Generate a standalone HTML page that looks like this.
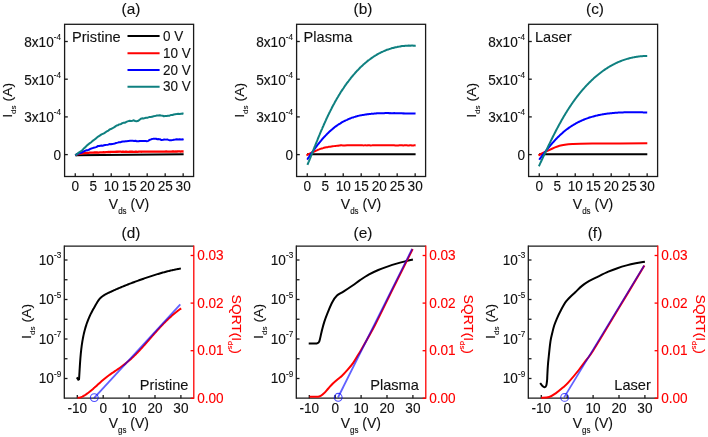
<!DOCTYPE html>
<html><head><meta charset="utf-8"><style>
html,body{margin:0;padding:0;background:#fff;}
body{width:708px;height:437px;overflow:hidden;}
svg{display:block;font-family:"Liberation Sans", sans-serif;filter:blur(0.35px);}
text{stroke-width:0.12px;}
</style></head><body>
<svg width="708" height="437" viewBox="0 0 708 437">
<rect width="708" height="437" fill="#fff"/>
<text transform="translate(131,13.6) scale(1,1.0)" font-size="15.4" text-anchor="middle" fill="#111" stroke="#111" >(a)</text>
<rect x="64.6" y="24.3" width="129" height="152.2" fill="none" stroke="#1a1a1a" stroke-width="1.3"/>
<line x1="75.25" y1="176.5" x2="75.25" y2="173.2" stroke="#1a1a1a" stroke-width="1.3" />
<text transform="translate(75.25,191) scale(1,1.04)" font-size="13.6" text-anchor="middle" fill="#111" stroke="#111" >0</text>
<line x1="93.23" y1="176.5" x2="93.23" y2="173.2" stroke="#1a1a1a" stroke-width="1.3" />
<text transform="translate(93.23,191) scale(1,1.04)" font-size="13.6" text-anchor="middle" fill="#111" stroke="#111" >5</text>
<line x1="111.22" y1="176.5" x2="111.22" y2="173.2" stroke="#1a1a1a" stroke-width="1.3" />
<text transform="translate(111.22,191) scale(1,1.04)" font-size="13.6" text-anchor="middle" fill="#111" stroke="#111" >10</text>
<line x1="129.2" y1="176.5" x2="129.2" y2="173.2" stroke="#1a1a1a" stroke-width="1.3" />
<text transform="translate(129.2,191) scale(1,1.04)" font-size="13.6" text-anchor="middle" fill="#111" stroke="#111" >15</text>
<line x1="147.19" y1="176.5" x2="147.19" y2="173.2" stroke="#1a1a1a" stroke-width="1.3" />
<text transform="translate(147.19,191) scale(1,1.04)" font-size="13.6" text-anchor="middle" fill="#111" stroke="#111" >20</text>
<line x1="165.18" y1="176.5" x2="165.18" y2="173.2" stroke="#1a1a1a" stroke-width="1.3" />
<text transform="translate(165.18,191) scale(1,1.04)" font-size="13.6" text-anchor="middle" fill="#111" stroke="#111" >25</text>
<line x1="183.16" y1="176.5" x2="183.16" y2="173.2" stroke="#1a1a1a" stroke-width="1.3" />
<text transform="translate(183.16,191) scale(1,1.04)" font-size="13.6" text-anchor="middle" fill="#111" stroke="#111" >30</text>
<line x1="64.6" y1="154.6" x2="67.8" y2="154.6" stroke="#1a1a1a" stroke-width="1.3" />
<text transform="translate(61,159.9) scale(1,1.04)" font-size="13.6" text-anchor="end" fill="#111" stroke="#111" >0</text>
<line x1="64.6" y1="116.9" x2="67.8" y2="116.9" stroke="#1a1a1a" stroke-width="1.3" />
<text transform="translate(61,122.3) scale(1,1.04)" font-size="13.6" text-anchor="end" fill="#111" stroke="#111" >3x10<tspan font-size="8.2" dy="-6.6">-4</tspan></text>
<line x1="64.6" y1="79.2" x2="67.8" y2="79.2" stroke="#1a1a1a" stroke-width="1.3" />
<text transform="translate(61,84.6) scale(1,1.04)" font-size="13.6" text-anchor="end" fill="#111" stroke="#111" >5x10<tspan font-size="8.2" dy="-6.6">-4</tspan></text>
<line x1="64.6" y1="41.5" x2="67.8" y2="41.5" stroke="#1a1a1a" stroke-width="1.3" />
<text transform="translate(61,46.9) scale(1,1.04)" font-size="13.6" text-anchor="end" fill="#111" stroke="#111" >8x10<tspan font-size="8.2" dy="-6.6">-4</tspan></text>
<text transform="translate(11.8,100.3) scale(1,1.08) rotate(-90)" font-size="13" text-anchor="middle" fill="#111" stroke="#111" >I<tspan font-size="7.5" dy="4.2">ds</tspan><tspan dy="-4.2"> (A)</tspan></text>
<text transform="translate(129,209) scale(1,1.08)" font-size="14" text-anchor="middle" fill="#111" stroke="#111" >V<tspan font-size="8" dy="4.4">ds</tspan><tspan dy="-4.4"> (V)</tspan></text>
<text transform="translate(72,42.4) scale(1,1.0)" font-size="14.6" text-anchor="start" fill="#111" stroke="#111" >Pristine</text>
<text transform="translate(363,13.6) scale(1,1.0)" font-size="15.4" text-anchor="middle" fill="#111" stroke="#111" >(b)</text>
<rect x="296.6" y="24.3" width="129" height="152.2" fill="none" stroke="#1a1a1a" stroke-width="1.3"/>
<line x1="307.25" y1="176.5" x2="307.25" y2="173.2" stroke="#1a1a1a" stroke-width="1.3" />
<text transform="translate(307.25,191) scale(1,1.04)" font-size="13.6" text-anchor="middle" fill="#111" stroke="#111" >0</text>
<line x1="325.24" y1="176.5" x2="325.24" y2="173.2" stroke="#1a1a1a" stroke-width="1.3" />
<text transform="translate(325.24,191) scale(1,1.04)" font-size="13.6" text-anchor="middle" fill="#111" stroke="#111" >5</text>
<line x1="343.22" y1="176.5" x2="343.22" y2="173.2" stroke="#1a1a1a" stroke-width="1.3" />
<text transform="translate(343.22,191) scale(1,1.04)" font-size="13.6" text-anchor="middle" fill="#111" stroke="#111" >10</text>
<line x1="361.2" y1="176.5" x2="361.2" y2="173.2" stroke="#1a1a1a" stroke-width="1.3" />
<text transform="translate(361.2,191) scale(1,1.04)" font-size="13.6" text-anchor="middle" fill="#111" stroke="#111" >15</text>
<line x1="379.19" y1="176.5" x2="379.19" y2="173.2" stroke="#1a1a1a" stroke-width="1.3" />
<text transform="translate(379.19,191) scale(1,1.04)" font-size="13.6" text-anchor="middle" fill="#111" stroke="#111" >20</text>
<line x1="397.18" y1="176.5" x2="397.18" y2="173.2" stroke="#1a1a1a" stroke-width="1.3" />
<text transform="translate(397.18,191) scale(1,1.04)" font-size="13.6" text-anchor="middle" fill="#111" stroke="#111" >25</text>
<line x1="415.16" y1="176.5" x2="415.16" y2="173.2" stroke="#1a1a1a" stroke-width="1.3" />
<text transform="translate(415.16,191) scale(1,1.04)" font-size="13.6" text-anchor="middle" fill="#111" stroke="#111" >30</text>
<line x1="296.6" y1="154.6" x2="299.8" y2="154.6" stroke="#1a1a1a" stroke-width="1.3" />
<text transform="translate(293,159.9) scale(1,1.04)" font-size="13.6" text-anchor="end" fill="#111" stroke="#111" >0</text>
<line x1="296.6" y1="116.9" x2="299.8" y2="116.9" stroke="#1a1a1a" stroke-width="1.3" />
<text transform="translate(293,122.3) scale(1,1.04)" font-size="13.6" text-anchor="end" fill="#111" stroke="#111" >3x10<tspan font-size="8.2" dy="-6.6">-4</tspan></text>
<line x1="296.6" y1="79.2" x2="299.8" y2="79.2" stroke="#1a1a1a" stroke-width="1.3" />
<text transform="translate(293,84.6) scale(1,1.04)" font-size="13.6" text-anchor="end" fill="#111" stroke="#111" >5x10<tspan font-size="8.2" dy="-6.6">-4</tspan></text>
<line x1="296.6" y1="41.5" x2="299.8" y2="41.5" stroke="#1a1a1a" stroke-width="1.3" />
<text transform="translate(293,46.9) scale(1,1.04)" font-size="13.6" text-anchor="end" fill="#111" stroke="#111" >8x10<tspan font-size="8.2" dy="-6.6">-4</tspan></text>
<text transform="translate(243.8,100.3) scale(1,1.08) rotate(-90)" font-size="13" text-anchor="middle" fill="#111" stroke="#111" >I<tspan font-size="7.5" dy="4.2">ds</tspan><tspan dy="-4.2"> (A)</tspan></text>
<text transform="translate(361,209) scale(1,1.08)" font-size="14" text-anchor="middle" fill="#111" stroke="#111" >V<tspan font-size="8" dy="4.4">ds</tspan><tspan dy="-4.4"> (V)</tspan></text>
<text transform="translate(303.6,42.4) scale(1,1.0)" font-size="14.6" text-anchor="start" fill="#111" stroke="#111" >Plasma</text>
<text transform="translate(595,13.6) scale(1,1.0)" font-size="15.4" text-anchor="middle" fill="#111" stroke="#111" >(c)</text>
<rect x="528.6" y="24.3" width="129" height="152.2" fill="none" stroke="#1a1a1a" stroke-width="1.3"/>
<line x1="539.25" y1="176.5" x2="539.25" y2="173.2" stroke="#1a1a1a" stroke-width="1.3" />
<text transform="translate(539.25,191) scale(1,1.04)" font-size="13.6" text-anchor="middle" fill="#111" stroke="#111" >0</text>
<line x1="557.24" y1="176.5" x2="557.24" y2="173.2" stroke="#1a1a1a" stroke-width="1.3" />
<text transform="translate(557.24,191) scale(1,1.04)" font-size="13.6" text-anchor="middle" fill="#111" stroke="#111" >5</text>
<line x1="575.22" y1="176.5" x2="575.22" y2="173.2" stroke="#1a1a1a" stroke-width="1.3" />
<text transform="translate(575.22,191) scale(1,1.04)" font-size="13.6" text-anchor="middle" fill="#111" stroke="#111" >10</text>
<line x1="593.21" y1="176.5" x2="593.21" y2="173.2" stroke="#1a1a1a" stroke-width="1.3" />
<text transform="translate(593.21,191) scale(1,1.04)" font-size="13.6" text-anchor="middle" fill="#111" stroke="#111" >15</text>
<line x1="611.19" y1="176.5" x2="611.19" y2="173.2" stroke="#1a1a1a" stroke-width="1.3" />
<text transform="translate(611.19,191) scale(1,1.04)" font-size="13.6" text-anchor="middle" fill="#111" stroke="#111" >20</text>
<line x1="629.17" y1="176.5" x2="629.17" y2="173.2" stroke="#1a1a1a" stroke-width="1.3" />
<text transform="translate(629.17,191) scale(1,1.04)" font-size="13.6" text-anchor="middle" fill="#111" stroke="#111" >25</text>
<line x1="647.16" y1="176.5" x2="647.16" y2="173.2" stroke="#1a1a1a" stroke-width="1.3" />
<text transform="translate(647.16,191) scale(1,1.04)" font-size="13.6" text-anchor="middle" fill="#111" stroke="#111" >30</text>
<line x1="528.6" y1="154.6" x2="531.8" y2="154.6" stroke="#1a1a1a" stroke-width="1.3" />
<text transform="translate(525,159.9) scale(1,1.04)" font-size="13.6" text-anchor="end" fill="#111" stroke="#111" >0</text>
<line x1="528.6" y1="116.9" x2="531.8" y2="116.9" stroke="#1a1a1a" stroke-width="1.3" />
<text transform="translate(525,122.3) scale(1,1.04)" font-size="13.6" text-anchor="end" fill="#111" stroke="#111" >3x10<tspan font-size="8.2" dy="-6.6">-4</tspan></text>
<line x1="528.6" y1="79.2" x2="531.8" y2="79.2" stroke="#1a1a1a" stroke-width="1.3" />
<text transform="translate(525,84.6) scale(1,1.04)" font-size="13.6" text-anchor="end" fill="#111" stroke="#111" >5x10<tspan font-size="8.2" dy="-6.6">-4</tspan></text>
<line x1="528.6" y1="41.5" x2="531.8" y2="41.5" stroke="#1a1a1a" stroke-width="1.3" />
<text transform="translate(525,46.9) scale(1,1.04)" font-size="13.6" text-anchor="end" fill="#111" stroke="#111" >8x10<tspan font-size="8.2" dy="-6.6">-4</tspan></text>
<text transform="translate(475.8,100.3) scale(1,1.08) rotate(-90)" font-size="13" text-anchor="middle" fill="#111" stroke="#111" >I<tspan font-size="7.5" dy="4.2">ds</tspan><tspan dy="-4.2"> (A)</tspan></text>
<text transform="translate(593,209) scale(1,1.08)" font-size="14" text-anchor="middle" fill="#111" stroke="#111" >V<tspan font-size="8" dy="4.4">ds</tspan><tspan dy="-4.4"> (V)</tspan></text>
<text transform="translate(535,42.4) scale(1,1.0)" font-size="14.6" text-anchor="start" fill="#111" stroke="#111" >Laser</text>
<line x1="127.5" y1="36" x2="159.6" y2="36" stroke="#000" stroke-width="2.0" />
<text transform="translate(163,40.6) scale(1,1.08)" font-size="13.5" text-anchor="start" fill="#111" stroke="#111" >0 V</text>
<line x1="127.5" y1="53.2" x2="159.6" y2="53.2" stroke="#ff0000" stroke-width="2.0" />
<text transform="translate(163,57.8) scale(1,1.08)" font-size="13.5" text-anchor="start" fill="#111" stroke="#111" >10 V</text>
<line x1="127.5" y1="70.1" x2="159.6" y2="70.1" stroke="#0000ff" stroke-width="2.0" />
<text transform="translate(163,74.7) scale(1,1.08)" font-size="13.5" text-anchor="start" fill="#111" stroke="#111" >20 V</text>
<line x1="127.5" y1="86.8" x2="159.6" y2="86.8" stroke="#0f8080" stroke-width="2.0" />
<text transform="translate(163,91.4) scale(1,1.08)" font-size="13.5" text-anchor="start" fill="#111" stroke="#111" >30 V</text>
<path d="M75.3,155.3 L183.6,154.2" fill="none" stroke="#000" stroke-width="2.0" stroke-linejoin="round" stroke-linecap="butt" />
<path d="M75.4,155.5 L76.43,154.78 L78.6,153.92 L79.51,153.85 L80.5,153.54 L81.6,153.49 L82.85,153.29 L84.26,153.07 L85.87,153.03 L87.7,152.79 L88.66,152.83 L89.71,152.68 L90.84,152.63 L92.03,152.66 L93.28,152.7 L94.56,152.49 L95.88,152.46 L97.21,152.51 L98.55,152.55 L99.88,152.41 L101.19,152.33 L102.47,152.43 L103.7,152.17 L104.89,152.32 L106,152.15 L107.25,152.07 L108.14,152.02 L108.79,152.02 L109.32,152.1 L109.86,151.92 L110.52,151.98 L111.44,151.96 L112.72,151.86 L114.49,151.87 L116.88,151.73 L120,151.69 L120.76,151.72 L121.58,151.83 L122.45,151.76 L123.37,151.73 L124.34,151.79 L125.35,151.75 L126.41,151.71 L127.52,151.82 L128.66,151.79 L129.84,151.67 L131.05,151.74 L132.3,151.73 L133.58,151.8 L134.89,151.76 L136.22,151.65 L137.57,151.81 L138.95,151.59 L140.35,151.66 L141.76,151.73 L143.19,151.58 L144.63,151.66 L146.08,151.54 L147.54,151.69 L149.01,151.7 L150.47,151.65 L151.94,151.72 L153.41,151.58 L154.87,151.66 L156.33,151.63 L157.78,151.62 L159.22,151.59 L160.64,151.67 L162.05,151.69 L163.45,151.58 L164.82,151.62 L166.17,151.47 L167.5,151.61 L168.8,151.6 L170.08,151.67 L171.32,151.63 L172.53,151.49 L173.7,151.51 L174.83,151.58 L175.93,151.42 L176.98,151.52 L177.99,151.44 L178.95,151.43 L179.86,151.41 L180.72,151.58 L181.53,151.42 L182.28,151.45 L182.97,151.48 L183.6,151.5" fill="none" stroke="#ff0000" stroke-width="2.3" stroke-linejoin="round" stroke-linecap="butt" />
<path d="M75.4,155.5 L76.3,154.72 L77.04,153.91 L78,153.72 L79.11,153.32 L80.33,153.02 L81.62,152.46 L82.93,151.97 L84.2,151.12 L85.4,150.75 L86.58,150.28 L87.8,150.16 L89.04,149.77 L90.28,148.86 L91.48,148.47 L92.62,148.11 L93.67,147.76 L94.6,147.59 L96.07,147.12 L97.17,146.51 L98.14,146.01 L99.2,145.95 L100.34,145.67 L101.46,145.61 L102.65,145.67 L104,145.31 L105.25,145.01 L106.61,144.87 L108.05,144.68 L109.49,144.08 L110.9,144.34 L112.23,144.01 L113.51,143.79 L114.81,143.45 L116.19,142.92 L117.7,142.64 L118.91,142.25 L120.21,142.35 L121.59,141.78 L122.98,141.56 L124.35,141.45 L125.67,141.24 L126.9,141.2 L128.49,140.89 L130.01,140.78 L131.44,140.82 L132.77,140.77 L134,140.92 L135.59,140.76 L136.89,141.37 L138.6,141.27 L139.81,140.99 L141.23,141.06 L142.76,141.11 L144.27,141.09 L145.65,140.88 L146.8,141.21 L148.3,140.89 L149.3,140.04 L150.5,139.59 L151.75,139.09 L153.14,138.87 L154.58,138.85 L156,138.76 L157.4,139.24 L158.81,139.12 L160.2,139.33 L161.5,140.07 L163.05,139.81 L164.49,139.44 L166,139.63 L167.18,139.42 L168.37,139.91 L169.67,140.34 L171.2,140.32 L172.44,140.13 L173.86,139.71 L175.36,139.58 L176.84,139.26 L178.22,139.45 L179.4,139.22 L181.28,139.42 L182.73,139.35 L183.7,139.6" fill="none" stroke="#0000ff" stroke-width="2.0" stroke-linejoin="round" stroke-linecap="butt" />
<path d="M75.4,155.5 L76.18,154.57 L77.31,153.84 L78.5,152.89 L79.62,152.01 L80.81,151.21 L82.2,150.19 L83,149.47 L83.85,148.41 L84.75,147.77 L85.7,146.81 L86.68,145.72 L87.7,144.82 L88.61,144.17 L89.57,143.3 L90.56,142.69 L91.57,141.96 L92.59,140.79 L93.6,140.25 L94.6,139.49 L95.77,138.61 L96.98,137.43 L98.18,136.54 L99.36,135.8 L100.47,135.07 L101.5,134.42 L102.8,133.86 L103.9,133.36 L105,132.67 L106.3,131.69 L107.33,131.17 L108.45,130.58 L109.62,129.44 L110.83,129.06 L112.03,128.51 L113.2,127.77 L114.34,127.12 L115.47,126.33 L116.6,125.54 L117.73,125.33 L118.86,124.51 L120,124.28 L121.16,123.92 L122.34,123.14 L123.53,122.75 L124.7,122.72 L125.83,122.25 L126.9,121.6 L128.38,121.14 L129.75,120.77 L131.07,120.92 L132.4,120.68 L133.79,120.34 L135.19,120.99 L136.53,121.3 L137.7,121.09 L138.79,120.41 L139.64,119.76 L140.9,118.78 L142.03,118.36 L143.36,118.59 L144.8,118.08 L146.28,117.7 L147.7,117.66 L149.12,117.09 L150.61,117.1 L152.07,116.83 L153.42,116.23 L154.6,116.05 L156,115.73 L157.05,115.39 L158.3,115.45 L159.61,115.32 L161.11,115.6 L162.57,115.63 L163.8,116.25 L165.26,116.07 L166.6,116.07 L167.97,115.86 L169.53,115.64 L171.2,114.95 L172.48,115 L173.81,114.5 L175.21,114.3 L176.7,114.11 L178.09,113.71 L179.65,113.89 L181.21,113.68 L182.55,113.53 L183.5,113.8" fill="none" stroke="#0f8080" stroke-width="2.0" stroke-linejoin="round" stroke-linecap="butt" />
<path d="M307,154.3 L415.6,154.3" fill="none" stroke="#000" stroke-width="2.0" stroke-linejoin="round" stroke-linecap="butt" />
<path d="M306.4,155.3 L307.21,154.95 L308.32,154.27 L309.67,153.66 L311.18,152.98 L312.8,152.21 L313.74,151.74 L314.73,151.33 L315.76,150.85 L316.84,150.4 L317.96,149.77 L319.13,149.38 L320.34,148.86 L321.6,148.44 L322.9,148.15 L324.01,147.82 L325.17,147.56 L326.37,147.35 L327.61,147.14 L328.88,146.82 L330.16,146.64 L331.46,146.43 L332.76,146.25 L334.05,146.12 L335.34,145.93 L336.6,145.81 L337.66,145.68 L338.41,145.68 L338.97,145.56 L339.45,145.54 L339.97,145.51 L340.65,145.34 L341.59,145.37 L342.93,145.43 L344.76,145.4 L347.21,145.24 L350.4,145.22 L351.16,145.28 L351.98,145.21 L352.84,145.24 L353.76,145.2 L354.73,145.32 L355.75,145.34 L356.8,145.36 L357.91,145.21 L359.05,145.33 L360.23,145.32 L361.44,145.21 L362.69,145.36 L363.96,145.38 L365.27,145.23 L366.6,145.38 L367.96,145.27 L369.34,145.29 L370.74,145.39 L372.16,145.36 L373.59,145.23 L375.04,145.29 L376.49,145.31 L377.96,145.27 L379.43,145.25 L380.91,145.28 L382.38,145.36 L383.86,145.22 L385.34,145.33 L386.81,145.31 L388.27,145.23 L389.73,145.3 L391.17,145.36 L392.6,145.34 L394.02,145.26 L395.42,145.45 L396.79,145.41 L398.15,145.45 L399.48,145.28 L400.78,145.32 L402.05,145.27 L403.3,145.43 L404.51,145.33 L405.68,145.3 L406.82,145.36 L407.91,145.46 L408.96,145.45 L409.97,145.34 L410.94,145.32 L411.85,145.48 L412.71,145.41 L413.52,145.44 L414.27,145.32 L414.97,145.31 L415.6,145.4" fill="none" stroke="#ff0000" stroke-width="2.0" stroke-linejoin="round" stroke-linecap="butt" />
<path d="M307.15,159.6 L307.58,159 L308.02,158.31 L308.46,157.6 L308.9,157.13 L309.35,156.42 L309.79,155.8 L310.24,155.01 L310.69,154.51 L311.15,153.7 L311.6,153.21 L312.06,152.47 L312.53,151.79 L312.99,151.18 L313.46,150.6 L313.94,149.81 L314.41,149.13 L314.89,148.55 L315.37,147.84 L315.86,147.16 L316.35,146.52 L316.84,145.85 L317.33,145.23 L317.83,144.61 L318.34,143.96 L318.84,143.41 L319.35,142.67 L319.87,142.08 L320.39,141.38 L320.91,140.78 L321.44,140.09 L321.97,139.51 L322.5,138.84 L323.04,138.36 L323.58,137.71 L324.13,137.03 L324.68,136.49 L325.24,135.98 L325.8,135.22 L326.37,134.77 L326.94,134.11 L327.51,133.55 L328.09,133.04 L328.68,132.39 L329.27,131.85 L329.86,131.33 L330.46,130.85 L331.07,130.18 L331.68,129.75 L332.29,129.2 L332.91,128.66 L333.54,128.11 L334.17,127.6 L334.81,127.04 L335.45,126.57 L336.1,126.08 L336.75,125.75 L337.41,125.19 L338.07,124.72 L338.74,124.26 L339.41,123.98 L340.09,123.56 L340.77,123.1 L341.45,122.62 L342.14,122.21 L342.84,121.83 L343.54,121.48 L344.24,121.05 L344.95,120.75 L345.67,120.36 L346.38,120.16 L347.1,119.83 L347.83,119.42 L348.56,119.04 L349.29,118.88 L350.03,118.46 L350.77,118.19 L351.52,117.84 L352.26,117.65 L353.02,117.42 L353.77,117.18 L354.53,116.88 L355.29,116.71 L356.06,116.4 L356.83,116.24 L357.6,116 L358.38,115.87 L359.15,115.61 L359.94,115.43 L360.72,115.32 L361.51,115.14 L362.29,115.06 L363.08,114.9 L363.88,114.8 L364.67,114.65 L365.47,114.54 L366.27,114.45 L367.07,114.24 L367.88,114.12 L368.68,114.15 L369.49,113.89 L370.3,113.92 L371.11,113.82 L371.92,113.62 L372.74,113.71 L373.55,113.65 L374.37,113.54 L375.19,113.5 L376,113.47 L376.82,113.28 L377.64,113.32 L378.46,113.28 L379.29,113.31 L380.11,113.27 L380.93,113.25 L381.75,113.18 L382.58,113.22 L383.4,113.17 L384.23,113.16 L385.05,113.06 L385.87,113.01 L386.7,113.03 L387.52,113.07 L388.35,113.02 L389.17,113.17 L389.99,113.12 L390.81,113.15 L391.64,113.15 L392.46,113.18 L393.28,113.15 L394.1,113.07 L394.91,113.24 L395.73,113.25 L396.55,113.22 L397.36,113.24 L398.18,113.29 L398.99,113.19 L399.8,113.34 L400.61,113.26 L401.41,113.25 L402.22,113.31 L403.02,113.42 L403.83,113.33 L404.62,113.46 L405.42,113.52 L406.22,113.44 L407.01,113.43 L407.8,113.46 L408.59,113.52 L409.38,113.54 L410.16,113.52 L410.94,113.53 L411.72,113.43 L412.49,113.44 L413.26,113.46 L414.03,113.56 L414.8,113.46 L415.56,113.49" fill="none" stroke="#0000ff" stroke-width="2.0" stroke-linejoin="round" stroke-linecap="butt" />
<path d="M307.45,164.94 L307.75,164.22 L308.04,163.37 L308.34,162.64 L308.63,161.95 L308.93,161.29 L309.22,160.56 L309.52,159.81 L309.81,158.99 L310.11,158.3 L310.4,157.55 L310.7,156.8 L310.99,155.99 L311.29,155.4 L311.58,154.52 L311.87,153.93 L312.17,153.18 L312.46,152.25 L312.76,151.59 L313.05,150.92 L313.35,150.2 L313.65,149.35 L313.94,148.57 L314.24,147.81 L314.54,147.21 L314.83,146.32 L315.13,145.64 L315.43,144.81 L315.73,144.14 L316.03,143.48 L316.33,142.56 L316.63,141.95 L316.93,141.14 L317.24,140.47 L317.54,139.69 L317.84,138.84 L318.15,138.23 L318.45,137.4 L318.76,136.56 L319.07,135.81 L319.38,135.16 L319.69,134.41 L320,133.63 L320.31,132.85 L320.62,132.15 L320.94,131.4 L321.25,130.76 L321.57,129.85 L321.89,129.25 L322.2,128.53 L322.52,127.64 L322.85,127.06 L323.17,126.28 L323.49,125.57 L323.82,124.71 L324.15,123.99 L324.48,123.25 L324.81,122.64 L325.14,121.82 L325.47,121.03 L325.81,120.31 L326.14,119.55 L326.48,118.77 L326.82,118.04 L327.17,117.46 L327.51,116.62 L327.86,116.02 L328.21,115.15 L328.56,114.43 L328.91,113.75 L329.26,112.96 L329.62,112.27 L329.98,111.66 L330.34,110.93 L330.7,110.19 L331.06,109.44 L331.43,108.77 L331.8,108.06 L332.17,107.27 L332.54,106.59 L332.92,105.74 L333.3,105.17 L333.68,104.4 L334.06,103.75 L334.45,103.02 L334.83,102.24 L335.23,101.49 L335.62,100.97 L336.02,100.1 L336.41,99.47 L336.82,98.75 L337.22,98.05 L337.63,97.44 L338.04,96.8 L338.45,95.96 L338.86,95.35 L339.28,94.59 L339.7,93.96 L340.13,93.24 L340.55,92.52 L340.98,91.84 L341.42,91.17 L341.85,90.63 L342.29,89.88 L342.74,89.15 L343.18,88.62 L343.63,87.97 L344.08,87.2 L344.54,86.47 L345,85.82 L345.46,85.15 L345.93,84.54 L346.4,83.84 L346.87,83.22 L347.35,82.57 L347.83,81.99 L348.31,81.41 L348.8,80.74 L349.29,80.03 L349.78,79.4 L350.28,78.78 L350.78,78.12 L351.29,77.49 L351.8,76.81 L352.31,76.23 L352.83,75.74 L353.35,74.96 L353.88,74.42 L354.4,73.83 L354.94,73.27 L355.47,72.54 L356.02,71.95 L356.56,71.35 L357.11,70.79 L357.66,70.21 L358.22,69.73 L358.78,69.12 L359.35,68.55 L359.91,67.81 L360.49,67.25 L361.07,66.82 L361.65,66.3 L362.23,65.66 L362.82,65.14 L363.42,64.48 L364.02,64.02 L364.62,63.6 L365.23,63.05 L365.84,62.54 L366.45,62.05 L367.07,61.4 L367.7,60.87 L368.32,60.38 L368.96,59.97 L369.59,59.52 L370.24,59.09 L370.88,58.58 L371.53,58.1 L372.19,57.67 L372.85,57.16 L373.51,56.74 L374.18,56.2 L374.85,55.92 L375.53,55.39 L376.21,55.12 L376.9,54.66 L377.59,54.19 L378.29,53.77 L378.99,53.42 L379.69,53.12 L380.4,52.77 L381.12,52.3 L381.84,51.95 L382.56,51.7 L383.29,51.38 L384.03,51.03 L384.76,50.68 L385.51,50.46 L386.25,50.05 L387,49.82 L387.76,49.58 L388.52,49.41 L389.28,49.09 L390.05,48.89 L390.82,48.57 L391.59,48.29 L392.37,48.08 L393.14,48.01 L393.93,47.75 L394.71,47.48 L395.5,47.24 L396.29,47.16 L397.08,47.03 L397.88,46.82 L398.68,46.64 L399.48,46.59 L400.28,46.51 L401.08,46.25 L401.89,46.1 L402.69,46.06 L403.5,45.98 L404.31,45.95 L405.12,45.78 L405.94,45.84 L406.75,45.77 L407.57,45.68 L408.38,45.58 L409.2,45.71 L410.01,45.56 L410.83,45.65 L411.65,45.54 L412.46,45.55 L413.28,45.67 L414.1,45.61 L414.91,45.78 L415.73,45.74" fill="none" stroke="#0f8080" stroke-width="2.0" stroke-linejoin="round" stroke-linecap="butt" />
<path d="M539,154.3 L647.3,154.3" fill="none" stroke="#000" stroke-width="2.0" stroke-linejoin="round" stroke-linecap="butt" />
<path d="M538.4,155.4 C539.62,154.78 542.18,153.3 545.7,151.7 C549.22,150.1 554.92,147.08 559.5,145.8 C564.08,144.52 567.12,144.38 573.2,144 C579.28,143.62 583.65,143.62 596,143.5 C608.35,143.38 638.75,143.33 647.3,143.3" fill="none" stroke="#ff0000" stroke-width="2.0" stroke-linejoin="round" stroke-linecap="butt" />
<path d="M539.21,159.73 L539.68,159.09 L540.15,158.46 L540.63,157.82 L541.11,157.18 L541.58,156.54 L542.06,155.91 L542.55,155.27 L543.03,154.63 L543.52,153.99 L544.01,153.35 L544.5,152.71 L545,152.07 L545.49,151.43 L545.99,150.79 L546.49,150.16 L547,149.52 L547.51,148.89 L548.02,148.26 L548.53,147.63 L549.05,147 L549.57,146.37 L550.09,145.75 L550.62,145.12 L551.14,144.5 L551.68,143.89 L552.21,143.27 L552.75,142.66 L553.29,142.05 L553.84,141.45 L554.39,140.85 L554.94,140.25 L555.5,139.65 L556.06,139.06 L556.63,138.48 L557.2,137.9 L557.77,137.32 L558.35,136.75 L558.93,136.18 L559.51,135.62 L560.1,135.06 L560.69,134.51 L561.29,133.97 L561.89,133.43 L562.5,132.89 L563.11,132.36 L563.73,131.84 L564.35,131.33 L564.98,130.82 L565.61,130.31 L566.24,129.82 L566.88,129.33 L567.53,128.85 L568.17,128.37 L568.83,127.9 L569.48,127.44 L570.15,126.99 L570.81,126.54 L571.48,126.1 L572.16,125.67 L572.84,125.24 L573.52,124.82 L574.21,124.41 L574.9,124.01 L575.6,123.61 L576.29,123.23 L577,122.84 L577.71,122.47 L578.42,122.11 L579.13,121.75 L579.85,121.4 L580.57,121.05 L581.3,120.72 L582.03,120.39 L582.76,120.07 L583.5,119.76 L584.24,119.46 L584.98,119.17 L585.73,118.88 L586.48,118.6 L587.23,118.33 L587.98,118.07 L588.74,117.81 L589.5,117.56 L590.27,117.32 L591.04,117.08 L591.81,116.85 L592.58,116.63 L593.35,116.42 L594.13,116.21 L594.91,116.01 L595.69,115.82 L596.48,115.63 L597.27,115.45 L598.05,115.27 L598.85,115.1 L599.64,114.94 L600.43,114.78 L601.23,114.63 L602.03,114.48 L602.83,114.34 L603.63,114.21 L604.43,114.08 L605.24,113.95 L606.04,113.84 L606.85,113.72 L607.66,113.61 L608.47,113.51 L609.28,113.41 L610.09,113.32 L610.9,113.23 L611.71,113.15 L612.53,113.07 L613.34,112.99 L614.16,112.92 L614.97,112.85 L615.79,112.79 L616.6,112.73 L617.42,112.67 L618.24,112.62 L619.06,112.57 L619.87,112.53 L620.69,112.49 L621.51,112.45 L622.33,112.42 L623.14,112.39 L623.96,112.36 L624.78,112.34 L625.59,112.31 L626.41,112.3 L627.22,112.28 L628.04,112.27 L628.85,112.25 L629.66,112.25 L630.48,112.24 L631.29,112.24 L632.1,112.23 L632.91,112.23 L633.72,112.24 L634.52,112.24 L635.33,112.25 L636.13,112.25 L636.93,112.26 L637.74,112.27 L638.54,112.29 L639.33,112.3 L640.13,112.31 L640.92,112.33 L641.72,112.34 L642.51,112.36 L643.29,112.38 L644.08,112.4 L644.87,112.42 L645.65,112.44 L646.43,112.46 L647.2,112.48" fill="none" stroke="#0000ff" stroke-width="2.0" stroke-linejoin="round" stroke-linecap="butt" />
<path d="M538.87,166.27 L539.2,165.55 L539.54,164.83 L539.87,164.12 L540.21,163.4 L540.54,162.68 L540.88,161.96 L541.22,161.24 L541.55,160.52 L541.89,159.8 L542.23,159.08 L542.56,158.35 L542.9,157.63 L543.24,156.91 L543.58,156.18 L543.92,155.46 L544.26,154.73 L544.6,154.01 L544.94,153.28 L545.28,152.55 L545.62,151.83 L545.96,151.1 L546.31,150.37 L546.65,149.64 L546.99,148.91 L547.34,148.19 L547.69,147.46 L548.03,146.73 L548.38,146 L548.73,145.27 L549.08,144.55 L549.43,143.82 L549.78,143.09 L550.13,142.36 L550.49,141.63 L550.84,140.91 L551.2,140.18 L551.55,139.45 L551.91,138.73 L552.27,138 L552.63,137.27 L552.99,136.55 L553.36,135.82 L553.72,135.1 L554.09,134.38 L554.45,133.65 L554.82,132.93 L555.19,132.21 L555.56,131.49 L555.93,130.77 L556.31,130.05 L556.69,129.33 L557.06,128.61 L557.44,127.89 L557.82,127.17 L558.21,126.46 L558.59,125.74 L558.98,125.03 L559.36,124.32 L559.75,123.61 L560.15,122.9 L560.54,122.19 L560.93,121.48 L561.33,120.77 L561.73,120.07 L562.13,119.36 L562.54,118.66 L562.94,117.96 L563.35,117.26 L563.76,116.56 L564.17,115.86 L564.59,115.17 L565,114.47 L565.42,113.78 L565.84,113.09 L566.26,112.4 L566.69,111.71 L567.12,111.03 L567.55,110.34 L567.98,109.66 L568.42,108.98 L568.86,108.3 L569.3,107.63 L569.74,106.95 L570.18,106.28 L570.63,105.61 L571.08,104.94 L571.54,104.27 L571.99,103.61 L572.45,102.95 L572.91,102.29 L573.38,101.63 L573.85,100.97 L574.32,100.32 L574.79,99.67 L575.27,99.02 L575.75,98.38 L576.23,97.73 L576.71,97.09 L577.2,96.45 L577.69,95.82 L578.19,95.18 L578.69,94.55 L579.19,93.92 L579.69,93.3 L580.2,92.67 L580.71,92.05 L581.23,91.44 L581.74,90.82 L582.26,90.21 L582.79,89.6 L583.32,89 L583.85,88.4 L584.38,87.8 L584.92,87.2 L585.46,86.61 L586.01,86.02 L586.56,85.43 L587.11,84.84 L587.67,84.26 L588.23,83.69 L588.79,83.11 L589.36,82.54 L589.93,81.97 L590.51,81.41 L591.09,80.85 L591.67,80.29 L592.26,79.74 L592.85,79.19 L593.44,78.64 L594.04,78.1 L594.64,77.57 L595.25,77.03 L595.86,76.51 L596.47,75.98 L597.09,75.46 L597.71,74.95 L598.34,74.44 L598.97,73.93 L599.6,73.43 L600.24,72.94 L600.88,72.45 L601.52,71.96 L602.17,71.49 L602.82,71.01 L603.47,70.54 L604.13,70.08 L604.79,69.63 L605.46,69.17 L606.13,68.73 L606.8,68.29 L607.48,67.86 L608.16,67.43 L608.85,67.01 L609.53,66.6 L610.23,66.19 L610.92,65.79 L611.62,65.4 L612.32,65.02 L613.03,64.64 L613.74,64.27 L614.45,63.9 L615.17,63.54 L615.89,63.19 L616.62,62.85 L617.35,62.52 L618.08,62.19 L618.81,61.87 L619.55,61.56 L620.29,61.26 L621.04,60.96 L621.79,60.67 L622.54,60.4 L623.3,60.12 L624.06,59.86 L624.82,59.61 L625.59,59.36 L626.36,59.13 L627.13,58.9 L627.91,58.68 L628.68,58.46 L629.46,58.26 L630.25,58.06 L631.04,57.88 L631.82,57.7 L632.62,57.53 L633.41,57.36 L634.21,57.21 L635.01,57.06 L635.81,56.93 L636.61,56.8 L637.42,56.68 L638.22,56.57 L639.03,56.47 L639.84,56.37 L640.66,56.29 L641.47,56.21 L642.29,56.14 L643.11,56.08 L643.93,56.03 L644.75,55.99 L645.57,55.96 L646.39,55.93 L647.22,55.91" fill="none" stroke="#0f8080" stroke-width="2.0" stroke-linejoin="round" stroke-linecap="butt" />
<text transform="translate(131,237.6) scale(1,1.0)" font-size="15.4" text-anchor="middle" fill="#111" stroke="#111" >(d)</text>
<line x1="64.3" y1="246.1" x2="193.8" y2="246.1" stroke="#1a1a1a" stroke-width="1.3" />
<line x1="64.3" y1="245.45" x2="64.3" y2="398.85" stroke="#1a1a1a" stroke-width="1.3" />
<line x1="64.3" y1="398.2" x2="193.8" y2="398.2" stroke="#1a1a1a" stroke-width="1.3" />
<line x1="193.8" y1="245.45" x2="193.8" y2="398.85" stroke="#ff0000" stroke-width="1.3" />
<line x1="77.3" y1="398.2" x2="77.3" y2="394.9" stroke="#1a1a1a" stroke-width="1.3" />
<text transform="translate(77.3,412.5) scale(1,1.04)" font-size="13.6" text-anchor="middle" fill="#111" stroke="#111" >-10</text>
<line x1="103.2" y1="398.2" x2="103.2" y2="394.9" stroke="#1a1a1a" stroke-width="1.3" />
<text transform="translate(103.2,412.5) scale(1,1.04)" font-size="13.6" text-anchor="middle" fill="#111" stroke="#111" >0</text>
<line x1="129.1" y1="398.2" x2="129.1" y2="394.9" stroke="#1a1a1a" stroke-width="1.3" />
<text transform="translate(129.1,412.5) scale(1,1.04)" font-size="13.6" text-anchor="middle" fill="#111" stroke="#111" >10</text>
<line x1="155" y1="398.2" x2="155" y2="394.9" stroke="#1a1a1a" stroke-width="1.3" />
<text transform="translate(155,412.5) scale(1,1.04)" font-size="13.6" text-anchor="middle" fill="#111" stroke="#111" >20</text>
<line x1="180.9" y1="398.2" x2="180.9" y2="394.9" stroke="#1a1a1a" stroke-width="1.3" />
<text transform="translate(180.9,412.5) scale(1,1.04)" font-size="13.6" text-anchor="middle" fill="#111" stroke="#111" >30</text>
<line x1="64.3" y1="260" x2="67.5" y2="260" stroke="#1a1a1a" stroke-width="1.3" />
<text transform="translate(61.2,264.9) scale(1,1.04)" font-size="13.6" text-anchor="end" fill="#111" stroke="#111" >10<tspan font-size="8.2" dy="-6.6">-3</tspan></text>
<line x1="64.3" y1="279.75" x2="67.5" y2="279.75" stroke="#1a1a1a" stroke-width="1.3" />
<line x1="64.3" y1="299.5" x2="67.5" y2="299.5" stroke="#1a1a1a" stroke-width="1.3" />
<text transform="translate(61.2,304.4) scale(1,1.04)" font-size="13.6" text-anchor="end" fill="#111" stroke="#111" >10<tspan font-size="8.2" dy="-6.6">-5</tspan></text>
<line x1="64.3" y1="319.25" x2="67.5" y2="319.25" stroke="#1a1a1a" stroke-width="1.3" />
<line x1="64.3" y1="339" x2="67.5" y2="339" stroke="#1a1a1a" stroke-width="1.3" />
<text transform="translate(61.2,343.9) scale(1,1.04)" font-size="13.6" text-anchor="end" fill="#111" stroke="#111" >10<tspan font-size="8.2" dy="-6.6">-7</tspan></text>
<line x1="64.3" y1="358.75" x2="67.5" y2="358.75" stroke="#1a1a1a" stroke-width="1.3" />
<line x1="64.3" y1="378.5" x2="67.5" y2="378.5" stroke="#1a1a1a" stroke-width="1.3" />
<text transform="translate(61.2,383.4) scale(1,1.04)" font-size="13.6" text-anchor="end" fill="#111" stroke="#111" >10<tspan font-size="8.2" dy="-6.6">-9</tspan></text>
<line x1="190.6" y1="398.3" x2="193.8" y2="398.3" stroke="#ff0000" stroke-width="1.3" />
<text transform="translate(197.2,402.9) scale(1,1.04)" font-size="13.6" text-anchor="start" fill="#ff0000" stroke="#ff0000" >0.00</text>
<line x1="190.6" y1="350.7" x2="193.8" y2="350.7" stroke="#ff0000" stroke-width="1.3" />
<text transform="translate(197.2,355.3) scale(1,1.04)" font-size="13.6" text-anchor="start" fill="#ff0000" stroke="#ff0000" >0.01</text>
<line x1="190.6" y1="303.1" x2="193.8" y2="303.1" stroke="#ff0000" stroke-width="1.3" />
<text transform="translate(197.2,307.7) scale(1,1.04)" font-size="13.6" text-anchor="start" fill="#ff0000" stroke="#ff0000" >0.02</text>
<line x1="190.6" y1="255.5" x2="193.8" y2="255.5" stroke="#ff0000" stroke-width="1.3" />
<text transform="translate(197.2,260.1) scale(1,1.04)" font-size="13.6" text-anchor="start" fill="#ff0000" stroke="#ff0000" >0.03</text>
<text transform="translate(30.6,321.4) scale(1,1.08) rotate(-90)" font-size="13" text-anchor="middle" fill="#111" stroke="#111" >I<tspan font-size="7.5" dy="4.2">ds</tspan><tspan dy="-4.2"> (A)</tspan></text>
<text transform="translate(232.2,324.4) scale(1,1.08) rotate(90)" font-size="12.7" text-anchor="middle" fill="#ff0000" stroke="#ff0000" >SQRT(I<tspan font-size="7.3" dy="4.2">ds</tspan><tspan dy="-4.2">)</tspan></text>
<text transform="translate(128.8,428) scale(1,1.08)" font-size="14" text-anchor="middle" fill="#111" stroke="#111" >V<tspan font-size="8" dy="4.9">gs</tspan><tspan dy="-4.9"> (V)</tspan></text>
<text transform="translate(188.5,389.6) scale(1,1.0)" font-size="14.6" text-anchor="end" fill="#111" stroke="#111" >Pristine</text>
<text transform="translate(363,237.6) scale(1,1.0)" font-size="15.4" text-anchor="middle" fill="#111" stroke="#111" >(e)</text>
<line x1="296.3" y1="246.1" x2="425.8" y2="246.1" stroke="#1a1a1a" stroke-width="1.3" />
<line x1="296.3" y1="245.45" x2="296.3" y2="398.85" stroke="#1a1a1a" stroke-width="1.3" />
<line x1="296.3" y1="398.2" x2="425.8" y2="398.2" stroke="#1a1a1a" stroke-width="1.3" />
<line x1="425.8" y1="245.45" x2="425.8" y2="398.85" stroke="#ff0000" stroke-width="1.3" />
<line x1="309.3" y1="398.2" x2="309.3" y2="394.9" stroke="#1a1a1a" stroke-width="1.3" />
<text transform="translate(309.3,412.5) scale(1,1.04)" font-size="13.6" text-anchor="middle" fill="#111" stroke="#111" >-10</text>
<line x1="335.2" y1="398.2" x2="335.2" y2="394.9" stroke="#1a1a1a" stroke-width="1.3" />
<text transform="translate(335.2,412.5) scale(1,1.04)" font-size="13.6" text-anchor="middle" fill="#111" stroke="#111" >0</text>
<line x1="361.1" y1="398.2" x2="361.1" y2="394.9" stroke="#1a1a1a" stroke-width="1.3" />
<text transform="translate(361.1,412.5) scale(1,1.04)" font-size="13.6" text-anchor="middle" fill="#111" stroke="#111" >10</text>
<line x1="387" y1="398.2" x2="387" y2="394.9" stroke="#1a1a1a" stroke-width="1.3" />
<text transform="translate(387,412.5) scale(1,1.04)" font-size="13.6" text-anchor="middle" fill="#111" stroke="#111" >20</text>
<line x1="412.9" y1="398.2" x2="412.9" y2="394.9" stroke="#1a1a1a" stroke-width="1.3" />
<text transform="translate(412.9,412.5) scale(1,1.04)" font-size="13.6" text-anchor="middle" fill="#111" stroke="#111" >30</text>
<line x1="296.3" y1="260" x2="299.5" y2="260" stroke="#1a1a1a" stroke-width="1.3" />
<text transform="translate(293.2,264.9) scale(1,1.04)" font-size="13.6" text-anchor="end" fill="#111" stroke="#111" >10<tspan font-size="8.2" dy="-6.6">-3</tspan></text>
<line x1="296.3" y1="279.75" x2="299.5" y2="279.75" stroke="#1a1a1a" stroke-width="1.3" />
<line x1="296.3" y1="299.5" x2="299.5" y2="299.5" stroke="#1a1a1a" stroke-width="1.3" />
<text transform="translate(293.2,304.4) scale(1,1.04)" font-size="13.6" text-anchor="end" fill="#111" stroke="#111" >10<tspan font-size="8.2" dy="-6.6">-5</tspan></text>
<line x1="296.3" y1="319.25" x2="299.5" y2="319.25" stroke="#1a1a1a" stroke-width="1.3" />
<line x1="296.3" y1="339" x2="299.5" y2="339" stroke="#1a1a1a" stroke-width="1.3" />
<text transform="translate(293.2,343.9) scale(1,1.04)" font-size="13.6" text-anchor="end" fill="#111" stroke="#111" >10<tspan font-size="8.2" dy="-6.6">-7</tspan></text>
<line x1="296.3" y1="358.75" x2="299.5" y2="358.75" stroke="#1a1a1a" stroke-width="1.3" />
<line x1="296.3" y1="378.5" x2="299.5" y2="378.5" stroke="#1a1a1a" stroke-width="1.3" />
<text transform="translate(293.2,383.4) scale(1,1.04)" font-size="13.6" text-anchor="end" fill="#111" stroke="#111" >10<tspan font-size="8.2" dy="-6.6">-9</tspan></text>
<line x1="422.6" y1="398.3" x2="425.8" y2="398.3" stroke="#ff0000" stroke-width="1.3" />
<text transform="translate(429.2,402.9) scale(1,1.04)" font-size="13.6" text-anchor="start" fill="#ff0000" stroke="#ff0000" >0.00</text>
<line x1="422.6" y1="350.7" x2="425.8" y2="350.7" stroke="#ff0000" stroke-width="1.3" />
<text transform="translate(429.2,355.3) scale(1,1.04)" font-size="13.6" text-anchor="start" fill="#ff0000" stroke="#ff0000" >0.01</text>
<line x1="422.6" y1="303.1" x2="425.8" y2="303.1" stroke="#ff0000" stroke-width="1.3" />
<text transform="translate(429.2,307.7) scale(1,1.04)" font-size="13.6" text-anchor="start" fill="#ff0000" stroke="#ff0000" >0.02</text>
<line x1="422.6" y1="255.5" x2="425.8" y2="255.5" stroke="#ff0000" stroke-width="1.3" />
<text transform="translate(429.2,260.1) scale(1,1.04)" font-size="13.6" text-anchor="start" fill="#ff0000" stroke="#ff0000" >0.03</text>
<text transform="translate(262.6,321.4) scale(1,1.08) rotate(-90)" font-size="13" text-anchor="middle" fill="#111" stroke="#111" >I<tspan font-size="7.5" dy="4.2">ds</tspan><tspan dy="-4.2"> (A)</tspan></text>
<text transform="translate(464.2,324.4) scale(1,1.08) rotate(90)" font-size="12.7" text-anchor="middle" fill="#ff0000" stroke="#ff0000" >SQRT(I<tspan font-size="7.3" dy="4.2">ds</tspan><tspan dy="-4.2">)</tspan></text>
<text transform="translate(360.8,428) scale(1,1.08)" font-size="14" text-anchor="middle" fill="#111" stroke="#111" >V<tspan font-size="8" dy="4.9">gs</tspan><tspan dy="-4.9"> (V)</tspan></text>
<text transform="translate(418.9,389.6) scale(1,1.0)" font-size="14.6" text-anchor="end" fill="#111" stroke="#111" >Plasma</text>
<text transform="translate(595,237.6) scale(1,1.0)" font-size="15.4" text-anchor="middle" fill="#111" stroke="#111" >(f)</text>
<line x1="528.3" y1="246.1" x2="657.8" y2="246.1" stroke="#1a1a1a" stroke-width="1.3" />
<line x1="528.3" y1="245.45" x2="528.3" y2="398.85" stroke="#1a1a1a" stroke-width="1.3" />
<line x1="528.3" y1="398.2" x2="657.8" y2="398.2" stroke="#1a1a1a" stroke-width="1.3" />
<line x1="657.8" y1="245.45" x2="657.8" y2="398.85" stroke="#ff0000" stroke-width="1.3" />
<line x1="541.3" y1="398.2" x2="541.3" y2="394.9" stroke="#1a1a1a" stroke-width="1.3" />
<text transform="translate(541.3,412.5) scale(1,1.04)" font-size="13.6" text-anchor="middle" fill="#111" stroke="#111" >-10</text>
<line x1="567.2" y1="398.2" x2="567.2" y2="394.9" stroke="#1a1a1a" stroke-width="1.3" />
<text transform="translate(567.2,412.5) scale(1,1.04)" font-size="13.6" text-anchor="middle" fill="#111" stroke="#111" >0</text>
<line x1="593.1" y1="398.2" x2="593.1" y2="394.9" stroke="#1a1a1a" stroke-width="1.3" />
<text transform="translate(593.1,412.5) scale(1,1.04)" font-size="13.6" text-anchor="middle" fill="#111" stroke="#111" >10</text>
<line x1="619" y1="398.2" x2="619" y2="394.9" stroke="#1a1a1a" stroke-width="1.3" />
<text transform="translate(619,412.5) scale(1,1.04)" font-size="13.6" text-anchor="middle" fill="#111" stroke="#111" >20</text>
<line x1="644.9" y1="398.2" x2="644.9" y2="394.9" stroke="#1a1a1a" stroke-width="1.3" />
<text transform="translate(644.9,412.5) scale(1,1.04)" font-size="13.6" text-anchor="middle" fill="#111" stroke="#111" >30</text>
<line x1="528.3" y1="260" x2="531.5" y2="260" stroke="#1a1a1a" stroke-width="1.3" />
<text transform="translate(525.2,264.9) scale(1,1.04)" font-size="13.6" text-anchor="end" fill="#111" stroke="#111" >10<tspan font-size="8.2" dy="-6.6">-3</tspan></text>
<line x1="528.3" y1="279.75" x2="531.5" y2="279.75" stroke="#1a1a1a" stroke-width="1.3" />
<line x1="528.3" y1="299.5" x2="531.5" y2="299.5" stroke="#1a1a1a" stroke-width="1.3" />
<text transform="translate(525.2,304.4) scale(1,1.04)" font-size="13.6" text-anchor="end" fill="#111" stroke="#111" >10<tspan font-size="8.2" dy="-6.6">-5</tspan></text>
<line x1="528.3" y1="319.25" x2="531.5" y2="319.25" stroke="#1a1a1a" stroke-width="1.3" />
<line x1="528.3" y1="339" x2="531.5" y2="339" stroke="#1a1a1a" stroke-width="1.3" />
<text transform="translate(525.2,343.9) scale(1,1.04)" font-size="13.6" text-anchor="end" fill="#111" stroke="#111" >10<tspan font-size="8.2" dy="-6.6">-7</tspan></text>
<line x1="528.3" y1="358.75" x2="531.5" y2="358.75" stroke="#1a1a1a" stroke-width="1.3" />
<line x1="528.3" y1="378.5" x2="531.5" y2="378.5" stroke="#1a1a1a" stroke-width="1.3" />
<text transform="translate(525.2,383.4) scale(1,1.04)" font-size="13.6" text-anchor="end" fill="#111" stroke="#111" >10<tspan font-size="8.2" dy="-6.6">-9</tspan></text>
<line x1="654.6" y1="398.3" x2="657.8" y2="398.3" stroke="#ff0000" stroke-width="1.3" />
<text transform="translate(661.2,402.9) scale(1,1.04)" font-size="13.6" text-anchor="start" fill="#ff0000" stroke="#ff0000" >0.00</text>
<line x1="654.6" y1="350.7" x2="657.8" y2="350.7" stroke="#ff0000" stroke-width="1.3" />
<text transform="translate(661.2,355.3) scale(1,1.04)" font-size="13.6" text-anchor="start" fill="#ff0000" stroke="#ff0000" >0.01</text>
<line x1="654.6" y1="303.1" x2="657.8" y2="303.1" stroke="#ff0000" stroke-width="1.3" />
<text transform="translate(661.2,307.7) scale(1,1.04)" font-size="13.6" text-anchor="start" fill="#ff0000" stroke="#ff0000" >0.02</text>
<line x1="654.6" y1="255.5" x2="657.8" y2="255.5" stroke="#ff0000" stroke-width="1.3" />
<text transform="translate(661.2,260.1) scale(1,1.04)" font-size="13.6" text-anchor="start" fill="#ff0000" stroke="#ff0000" >0.03</text>
<text transform="translate(494.6,321.4) scale(1,1.08) rotate(-90)" font-size="13" text-anchor="middle" fill="#111" stroke="#111" >I<tspan font-size="7.5" dy="4.2">ds</tspan><tspan dy="-4.2"> (A)</tspan></text>
<text transform="translate(696.2,324.4) scale(1,1.08) rotate(90)" font-size="12.7" text-anchor="middle" fill="#ff0000" stroke="#ff0000" >SQRT(I<tspan font-size="7.3" dy="4.2">ds</tspan><tspan dy="-4.2">)</tspan></text>
<text transform="translate(592.8,428) scale(1,1.08)" font-size="14" text-anchor="middle" fill="#111" stroke="#111" >V<tspan font-size="8" dy="4.9">gs</tspan><tspan dy="-4.9"> (V)</tspan></text>
<text transform="translate(650.8,389.6) scale(1,1.0)" font-size="14.6" text-anchor="end" fill="#111" stroke="#111" >Laser</text>
<path d="M78.99,379.97 L79.05,379.18 L79.1,378.39 L79.15,377.59 L79.2,376.79 L79.25,375.99 L79.3,375.2 L79.34,374.4 L79.39,373.59 L79.44,372.79 L79.49,371.99 L79.54,371.19 L79.58,370.39 L79.63,369.58 L79.68,368.78 L79.73,367.97 L79.78,367.17 L79.83,366.36 L79.88,365.56 L79.93,364.75 L79.99,363.94 L80.04,363.14 L80.09,362.33 L80.15,361.52 L80.21,360.72 L80.27,359.91 L80.33,359.1 L80.39,358.29 L80.46,357.49 L80.53,356.68 L80.6,355.87 L80.67,355.07 L80.74,354.26 L80.82,353.46 L80.9,352.65 L80.98,351.85 L81.07,351.04 L81.16,350.24 L81.25,349.44 L81.34,348.63 L81.44,347.83 L81.54,347.03 L81.65,346.23 L81.75,345.43 L81.87,344.63 L81.98,343.83 L82.1,343.04 L82.23,342.24 L82.36,341.45 L82.49,340.65 L82.63,339.86 L82.77,339.07 L82.91,338.28 L83.07,337.49 L83.22,336.7 L83.38,335.91 L83.55,335.13 L83.72,334.34 L83.9,333.56 L84.08,332.78 L84.27,332 L84.46,331.22 L84.66,330.45 L84.87,329.67 L85.08,328.9 L85.3,328.13 L85.52,327.36 L85.75,326.6 L85.99,325.83 L86.24,325.07 L86.49,324.31 L86.74,323.55 L87.01,322.79 L87.28,322.04 L87.56,321.28 L87.84,320.53 L88.14,319.78 L88.44,319.04 L88.75,318.3 L89.07,317.55 L89.39,316.82 L89.72,316.08 L90.06,315.35 L90.41,314.62 L90.77,313.89 L91.13,313.16 L91.51,312.44 L91.89,311.72 L92.27,311 L92.66,310.28 L93.06,309.57 L93.46,308.85 L93.86,308.14 L94.26,307.43 L94.67,306.72 L95.07,306.01 L95.48,305.3 L95.88,304.59 L96.28,303.88 L96.69,303.17 L97.1,302.47 L97.52,301.78 L97.95,301.11 L98.4,300.45 L98.87,299.81 L99.35,299.19 L99.87,298.6 L100.41,298.03 L100.98,297.49 L101.57,296.98 L102.19,296.49 L102.83,296.02 L103.49,295.58 L104.16,295.15 L104.85,294.74 L105.56,294.34 L106.27,293.95 L107,293.58 L107.73,293.22 L108.47,292.86 L109.21,292.51 L109.95,292.16 L110.69,291.81 L111.43,291.47 L112.17,291.13 L112.91,290.79 L113.65,290.45 L114.39,290.12 L115.13,289.79 L115.87,289.46 L116.61,289.14 L117.35,288.81 L118.09,288.49 L118.84,288.18 L119.58,287.86 L120.32,287.55 L121.06,287.23 L121.81,286.92 L122.55,286.62 L123.29,286.31 L124.04,286.01 L124.78,285.71 L125.53,285.41 L126.27,285.11 L127.02,284.81 L127.77,284.52 L128.51,284.23 L129.26,283.94 L130.01,283.65 L130.76,283.36 L131.5,283.08 L132.25,282.79 L133,282.51 L133.75,282.23 L134.51,281.95 L135.26,281.67 L136.01,281.39 L136.76,281.11 L137.52,280.84 L138.27,280.57 L139.03,280.29 L139.79,280.02 L140.54,279.75 L141.3,279.48 L142.06,279.21 L142.82,278.94 L143.58,278.68 L144.34,278.41 L145.1,278.15 L145.87,277.89 L146.63,277.62 L147.39,277.36 L148.16,277.11 L148.92,276.85 L149.69,276.6 L150.46,276.34 L151.23,276.09 L151.99,275.84 L152.76,275.59 L153.53,275.35 L154.31,275.11 L155.08,274.86 L155.85,274.62 L156.62,274.39 L157.4,274.15 L158.17,273.92 L158.95,273.69 L159.72,273.46 L160.5,273.24 L161.27,273.02 L162.05,272.8 L162.83,272.58 L163.61,272.37 L164.39,272.16 L165.17,271.95 L165.95,271.74 L166.73,271.54 L167.51,271.34 L168.3,271.15 L169.08,270.95 L169.86,270.76 L170.65,270.58 L171.43,270.4 L172.22,270.22 L173.01,270.04 L173.79,269.87 L174.58,269.7 L175.37,269.54 L176.16,269.38 L176.95,269.22 L177.73,269.07 L178.52,268.92 L179.32,268.78 L180.11,268.64 L180.9,268.5" fill="none" stroke="#000" stroke-width="2.0" stroke-linejoin="round" stroke-linecap="butt" />
<path d="M76.9,377.3 L78.9,380.5" fill="none" stroke="#000" stroke-width="2.2" stroke-linejoin="round" stroke-linecap="butt" />
<path d="M77.54,397.88 L78.38,397.76 L79.23,397.63 L80.04,397.45 L80.82,397.21 L81.57,396.93 L82.31,396.61 L83.02,396.26 L83.72,395.87 L84.4,395.46 L85.08,395.04 L85.74,394.6 L86.41,394.15 L87.06,393.69 L87.71,393.22 L88.35,392.74 L88.99,392.25 L89.62,391.75 L90.25,391.25 L90.87,390.74 L91.49,390.22 L92.11,389.7 L92.72,389.17 L93.33,388.64 L93.94,388.1 L94.55,387.57 L95.15,387.02 L95.76,386.48 L96.36,385.94 L96.96,385.4 L97.56,384.85 L98.16,384.31 L98.76,383.77 L99.36,383.23 L99.97,382.69 L100.57,382.15 L101.18,381.62 L101.78,381.09 L102.39,380.56 L103,380.04 L103.62,379.52 L104.23,379 L104.85,378.49 L105.47,377.98 L106.1,377.48 L106.73,376.98 L107.37,376.48 L108.01,376 L108.65,375.52 L109.3,375.04 L109.95,374.57 L110.61,374.11 L111.28,373.65 L111.94,373.2 L112.61,372.75 L113.28,372.3 L113.95,371.85 L114.63,371.4 L115.3,370.95 L115.97,370.5 L116.64,370.04 L117.3,369.59 L117.97,369.13 L118.63,368.66 L119.29,368.2 L119.95,367.73 L120.61,367.26 L121.26,366.78 L121.91,366.3 L122.56,365.82 L123.2,365.33 L123.85,364.84 L124.48,364.35 L125.12,363.85 L125.75,363.35 L126.38,362.84 L127,362.33 L127.62,361.82 L128.24,361.3 L128.85,360.78 L129.46,360.25 L130.06,359.72 L130.66,359.19 L131.26,358.65 L131.85,358.1 L132.44,357.55 L133.03,357 L133.61,356.45 L134.18,355.89 L134.76,355.32 L135.33,354.76 L135.9,354.19 L136.46,353.62 L137.03,353.04 L137.59,352.46 L138.14,351.88 L138.7,351.3 L139.25,350.71 L139.8,350.12 L140.35,349.53 L140.9,348.94 L141.44,348.34 L141.98,347.74 L142.52,347.15 L143.06,346.55 L143.6,345.94 L144.14,345.34 L144.67,344.74 L145.21,344.13 L145.74,343.52 L146.28,342.91 L146.81,342.31 L147.34,341.7 L147.87,341.09 L148.4,340.48 L148.93,339.87 L149.46,339.26 L149.99,338.64 L150.53,338.03 L151.06,337.42 L151.59,336.81 L152.12,336.2 L152.65,335.59 L153.19,334.99 L153.72,334.38 L154.26,333.77 L154.79,333.17 L155.33,332.56 L155.87,331.96 L156.41,331.35 L156.95,330.75 L157.49,330.15 L158.03,329.55 L158.58,328.96 L159.12,328.36 L159.67,327.77 L160.22,327.18 L160.77,326.59 L161.33,326 L161.88,325.42 L162.44,324.83 L163,324.25 L163.56,323.67 L164.12,323.1 L164.69,322.52 L165.26,321.95 L165.83,321.39 L166.41,320.82 L166.98,320.26 L167.56,319.7 L168.14,319.14 L168.73,318.59 L169.32,318.04 L169.91,317.5 L170.5,316.95 L171.1,316.42 L171.7,315.88 L172.31,315.35 L172.92,314.82 L173.53,314.3 L174.14,313.78 L174.76,313.27 L175.38,312.75 L176.01,312.25 L176.64,311.75 L177.28,311.25 L177.91,310.76 L178.56,310.27 L179.21,309.79 L179.86,309.31 L180.51,308.83 L181.17,308.37" fill="none" stroke="#ff0000" stroke-width="2.0" stroke-linejoin="round" stroke-linecap="butt" />
<line x1="94" y1="398.2" x2="180.3" y2="304.3" stroke="#0000ff" stroke-width="1.8" stroke-opacity="0.62"/>
<circle cx="94.3" cy="397.6" r="3.9" fill="none" stroke="#0000ff" stroke-width="1.1" stroke-opacity="0.7"/>
<path d="M308.7,343.4 C310.07,343.4 315.13,343.75 316.9,343.4 C318.67,343.05 318.53,343.17 319.3,341.3 C320.07,339.43 320.68,335.4 321.5,332.2 C322.32,329 323.13,325.45 324.2,322.1 C325.27,318.75 326.53,315.45 327.9,312.1 C329.27,308.75 330.88,304.75 332.4,302 C333.92,299.25 335.17,297.33 337,295.6 C338.83,293.87 340.8,293.28 343.4,291.6 C346,289.92 349.83,287.4 352.6,285.5 C355.37,283.6 357.25,282.05 360,280.2 C362.75,278.35 366.05,276.1 369.1,274.4 C372.15,272.7 375.25,271.3 378.3,270 C381.35,268.7 384.35,267.67 387.4,266.6 C390.45,265.53 393.55,264.5 396.6,263.6 C399.65,262.7 402.98,261.88 405.7,261.2 C408.42,260.52 411.7,259.78 412.9,259.5" fill="none" stroke="#000" stroke-width="2.0" stroke-linejoin="round" stroke-linecap="butt" />
<path d="M309.5,396.8 C311.12,396.73 316.83,396.93 319.2,396.4 C321.57,395.87 322.18,394.92 323.7,393.6 C325.22,392.28 326.77,390.18 328.3,388.5 C329.83,386.82 331.07,385.25 332.9,383.5 C334.73,381.75 337.82,379.25 339.3,378 C340.78,376.75 340.4,377.38 341.8,376 C343.2,374.62 345.8,371.88 347.7,369.7 C349.6,367.52 351.58,365.18 353.2,362.9 C354.82,360.62 356.1,358.12 357.4,356 C358.7,353.88 358.07,355.37 361,350.2 C363.93,345.03 369.67,335.28 375,325 C380.33,314.72 386.72,301.17 393,288.5 C399.28,275.83 409.42,255.58 412.7,249" fill="none" stroke="#ff0000" stroke-width="2.0" stroke-linejoin="round" stroke-linecap="butt" />
<line x1="338" y1="397.5" x2="412.1" y2="249" stroke="#0000ff" stroke-width="1.8" stroke-opacity="0.62"/>
<circle cx="338.2" cy="397.3" r="3.9" fill="none" stroke="#0000ff" stroke-width="1.1" stroke-opacity="0.7"/>
<path d="M540.2,383 C540.58,383.5 541.77,385.3 542.5,386 C543.23,386.7 543.97,387.28 544.6,387.2 C545.23,387.12 545.88,386.7 546.3,385.5 C546.72,384.3 546.93,381.58 547.1,380 C547.27,378.42 547.17,378.47 547.3,376 C547.43,373.53 547.65,368.53 547.9,365.2 C548.15,361.87 548.37,360 548.8,356 C549.23,352 549.88,345.2 550.5,341.2 C551.12,337.2 551.88,334.62 552.5,332 C553.12,329.38 553.52,327.62 554.2,325.5 C554.88,323.38 555.63,321.55 556.6,319.3 C557.57,317.05 558.38,315.02 560,312 C561.62,308.98 563.72,304.53 566.3,301.2 C568.88,297.87 572.88,294.55 575.5,292 C578.12,289.45 579.77,287.7 582,285.9 C584.23,284.1 586.23,282.75 588.9,281.2 C591.57,279.65 594.77,278.18 598,276.6 C601.23,275.02 605.07,273.1 608.3,271.7 C611.53,270.3 614.35,269.25 617.4,268.2 C620.45,267.15 623.55,266.22 626.6,265.4 C629.65,264.58 632.65,263.92 635.7,263.3 C638.75,262.68 643.37,261.97 644.9,261.7" fill="none" stroke="#000" stroke-width="2.0" stroke-linejoin="round" stroke-linecap="butt" />
<path d="M541.2,397.8 C542.53,397.67 546.73,397.78 549.2,397 C551.67,396.22 553.72,394.67 556,393.1 C558.28,391.53 560.83,389.38 562.9,387.6 C564.97,385.82 565.75,385.33 568.4,382.4 C571.05,379.47 575.77,373.8 578.8,370 C581.83,366.2 584.15,362.93 586.6,359.6 C589.05,356.27 588.1,358.63 593.5,350 C598.9,341.37 610.52,321.88 619,307.8 C627.48,293.72 640.17,272.55 644.4,265.5" fill="none" stroke="#ff0000" stroke-width="2.0" stroke-linejoin="round" stroke-linecap="butt" />
<line x1="564.1" y1="397.4" x2="644.1" y2="265.6" stroke="#0000ff" stroke-width="1.8" stroke-opacity="0.62"/>
<circle cx="564.6" cy="397.4" r="3.9" fill="none" stroke="#0000ff" stroke-width="1.1" stroke-opacity="0.7"/>
</svg>
</body></html>
